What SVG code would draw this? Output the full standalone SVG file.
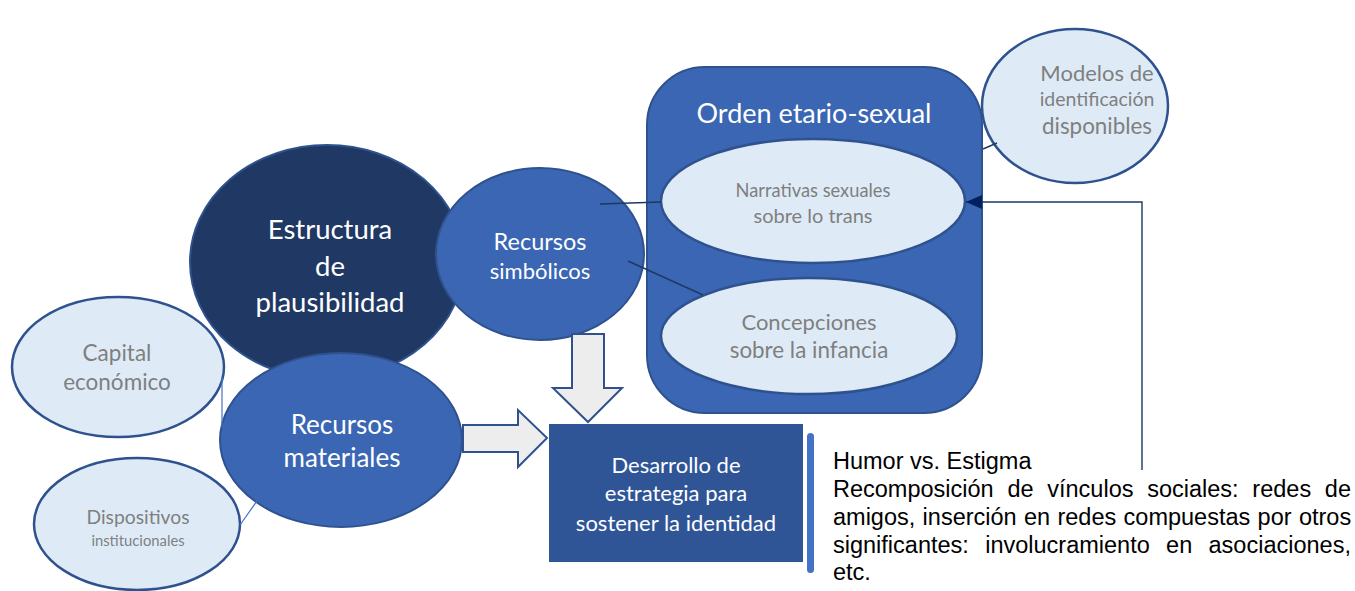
<svg xmlns="http://www.w3.org/2000/svg" width="1355" height="591" viewBox="0 0 1355 591">
<defs>
<style>
.mid{fill:#3A66B4;stroke:#2F528F;stroke-width:2}
.dark{fill:#203864;stroke:#2F528F;stroke-width:2}
.light{fill:#DEEBF7;stroke:#2F528F;stroke-width:2.5}
.arrow{fill:#EDEDED;stroke:#2F528F;stroke-width:2}
.wt{fill:#FFFFFF;font-family:Lato,"Open Sans",sans-serif;text-anchor:middle}
.gt{fill:#7F7F7F;font-family:Lato,"Open Sans",sans-serif;text-anchor:middle}
.bt{fill:#000000;font-family:"Liberation Sans",Arial,sans-serif;font-size:23.5px}
.conn{stroke:#1F3864;stroke-width:1.4;fill:none}
.connl{stroke:#4472C4;stroke-width:1.2;fill:none}
</style>
<marker id="ah" viewBox="0 0 16 14" refX="16" refY="7" markerWidth="16" markerHeight="14" markerUnits="userSpaceOnUse" orient="auto">
<path d="M0,0 L16,7 L0,14 Z" fill="#002060"/>
</marker>
</defs>
<rect width="1355" height="591" fill="#FFFFFF"/>

<g id="orden">
<rect class="mid" x="647" y="67" width="335" height="346" rx="58" ry="58"/>
<text class="wt" x="814" y="123" font-size="27">Orden etario-sexual</text>
</g>
<g id="narrativas">
<ellipse class="light" cx="813" cy="201" rx="152" ry="62"/>
<text class="gt" x="813" y="197" font-size="18.3">Narrativas sexuales</text>
<text class="gt" x="813" y="223" font-size="20">sobre lo trans</text>
</g>
<g id="concepciones">
<ellipse class="light" cx="809" cy="336" rx="148" ry="58"/>
<text class="gt" x="809" y="330" font-size="22">Concepciones</text>
<text class="gt" x="809" y="358" font-size="22.4">sobre la infancia</text>
</g>
<g id="modelos">
<ellipse class="light" cx="1075" cy="106" rx="93" ry="77"/>
<text class="gt" x="1097" y="81" font-size="22">Modelos de</text>
<text class="gt" x="1097" y="106" font-size="19.5">identificación</text>
<text class="gt" x="1097" y="134" font-size="22.4">disponibles</text>
</g>
<g id="estructura">
<ellipse class="dark" cx="327" cy="262" rx="137" ry="117"/>
<text class="wt" x="330" y="239" font-size="27.5">Estructura</text>
<text class="wt" x="330" y="276" font-size="27.5">de</text>
<text class="wt" x="330" y="312" font-size="27.5">plausibilidad</text>
</g>
<g id="capital">
<ellipse class="light" cx="118" cy="367" rx="106" ry="70"/>
<text class="gt" x="117" y="361" font-size="22.5">Capital</text>
<text class="gt" x="117" y="390" font-size="22.5">económico</text>
</g>
<g id="dispositivos">
<ellipse class="light" cx="137" cy="524" rx="103" ry="66"/>
<text class="gt" x="138" y="524" font-size="19.3">Dispositivos</text>
<text class="gt" x="138" y="546" font-size="14.8">institucionales</text>
</g>
<g id="simbolicos">
<ellipse class="mid" cx="540" cy="254" rx="104" ry="86"/>
<text class="wt" x="540" y="250" font-size="23.5">Recursos</text>
<text class="wt" x="540" y="279" font-size="22">simbólicos</text>
</g>
<g id="arrow-down">
<path class="arrow" d="M572,334 L604,334 L604,388 L622,388 L588,422 L553,388 L572,388 Z"/>
</g>
<g id="materiales">
<ellipse class="mid" cx="341" cy="440" rx="121" ry="87"/>
<text class="wt" x="342" y="434" font-size="26">Recursos</text>
<text class="wt" x="342" y="467" font-size="26">materiales</text>
</g>
<g id="arrow-right">
<path class="arrow" d="M463,425 L518,425 L518,410 L547,438 L518,467 L518,452 L463,452 Z"/>
</g>
<g id="desarrollo">
<rect x="549" y="424" width="254" height="138" fill="#2F5597"/>
<text class="wt" x="676" y="473" font-size="22">Desarrollo de</text>
<text class="wt" x="676" y="501" font-size="22">estrategia para</text>
<text class="wt" x="676" y="531" font-size="22">sostener la identidad</text>
</g>
<g id="estrategias">
<rect x="807" y="433" width="7" height="140" rx="3.5" fill="#4472C4"/>
<text class="bt" x="833" y="469">Humor vs. Estigma</text>
<text class="bt" x="833" y="497" word-spacing="7.2">Recomposición de vínculos sociales: redes de</text>
<text class="bt" x="833" y="525" word-spacing="0.8">amigos, inserción en redes compuestas por otros</text>
<text class="bt" x="833" y="553" word-spacing="9.8">significantes: involucramiento en asociaciones,</text>
<text class="bt" x="833" y="580">etc.</text>
</g>

<g id="connectors">
<line class="conn" x1="600" y1="204" x2="661" y2="202"/>
<line class="conn" x1="628" y1="261" x2="703" y2="295"/>
<line class="conn" x1="983" y1="149" x2="997" y2="143"/>
<line class="connl" x1="222" y1="377" x2="222" y2="427"/>
<line class="connl" x1="240" y1="525" x2="257" y2="501"/>
<polyline class="conn" points="1142,470 1142,202 966,202" marker-end="url(#ah)"/>
</g>
</svg>
